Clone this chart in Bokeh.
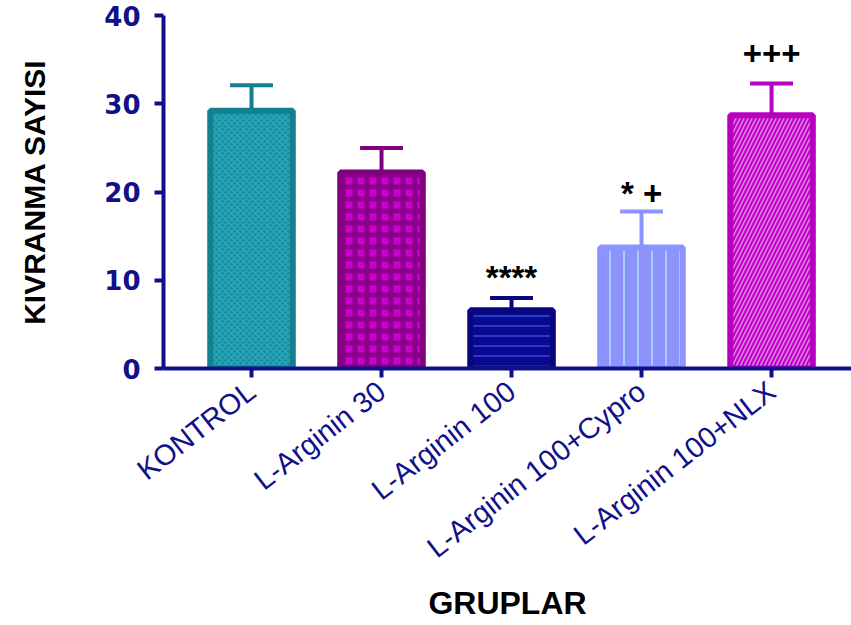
from bokeh.plotting import figure
from bokeh.models import ColumnDataSource, FixedTicker
from bokeh.core.properties import value
from bokeh.embed import file_html
from bokeh.resources import INLINE

# ---- data ----
groups = ["KONTROL", "L-Arginin 30", "L-Arginin 100", "L-Arginin 100+Cypro", "L-Arginin 100+NLX"]
means = [29.2, 22.2, 6.6, 13.7, 28.7]
sems = [2.9, 2.8, 1.4, 4.1, 3.6]
marks = ["", "", "****", "* +", "+++"]
y_ticks = [0, 10, 20, 30, 40]

# ---- styles ----
edge_colors = ["#137f8f", "#800080", "#06067e", "#8c94ff", "#b800c0"]
fill_colors = ["#1a8ea0", "#cc00cc", "#0a0a90", "#8c94fc", "#c000c8"]
hatch_colors = ["#28a8b8", "#8a008a", "#2a3ac8", "#a8ccff", "#e088e4"]
hatch_patterns = ["diagonal_cross", "cross", "horizontal_line", "vertical_line", "right_diagonal_line"]
hatch_scales = [6, 12, 10, 14, 8]
hatch_weights = [1.5, 5, 2, 2, 1.5]
mark_offsets = [0, 0, 20, 18, 30]

xs = list(range(1, len(groups) + 1))
tops = [m + s for m, s in zip(means, sems)]
cap_half = 0.165

src = ColumnDataSource(dict(
    x=xs, top=means, err_top=tops,
    cap_l=[x - cap_half for x in xs], cap_r=[x + cap_half for x in xs],
    edge=edge_colors, fill=fill_colors, hcol=hatch_colors,
    hpat=hatch_patterns, hscale=hatch_scales, hweight=hatch_weights,
))

AXIS_COLOR = "#10108a"

p = figure(width=851, height=625, output_backend="svg", toolbar_location=None,
           x_range=(0.323, 5.615), y_range=(0, 40),
           min_border_left=163, min_border_right=0, min_border_top=15, min_border_bottom=257)
p.outline_line_color = None
p.grid.visible = False
p.background_fill_color = "white"

# error stems and caps (upper only)
p.segment(x0="x", y0="top", x1="x", y1="err_top", source=src, line_color="edge", line_width=4)
p.segment(x0="cap_l", y0="err_top", x1="cap_r", y1="err_top", source=src, line_color="edge", line_width=4)

# bars
p.vbar(x="x", top="top", bottom=0, width=0.635, source=src,
       fill_color="fill", line_color="edge", line_width=6,
       hatch_pattern="hpat", hatch_color="hcol", hatch_scale="hscale", hatch_weight="hweight")

# significance marks
for i, mk in enumerate(marks):
    if mk:
        p.text(x=[xs[i]], y=[tops[i]], text=[mk], text_align="center", text_baseline="middle",
               y_offset=-mark_offsets[i], text_font=value("Liberation Sans"), text_font_style="bold",
               text_font_size="33px", text_color="black")

# axes
for ax in (p.xaxis[0], p.yaxis[0]):
    ax.axis_line_color = AXIS_COLOR
    ax.axis_line_width = 4
    ax.major_tick_line_color = AXIS_COLOR
    ax.major_tick_line_width = 4
    ax.major_tick_out = 9
    ax.major_tick_in = 0
    ax.minor_tick_line_color = None
    ax.major_label_text_color = AXIS_COLOR
    ax.axis_label_text_color = "black"
    ax.axis_label_text_font = "Liberation Sans"
    ax.axis_label_text_font_style = "bold"

p.yaxis.ticker = FixedTicker(ticks=y_ticks)
p.yaxis.major_label_text_font = "DejaVu Sans"
p.yaxis.major_label_text_font_style = "bold"
p.yaxis.major_label_text_font_size = "26px"
p.yaxis.major_label_standoff = 14
p.yaxis.axis_label = "KIVRANMA SAYISI"
p.yaxis.axis_label_text_font_size = "30px"
p.yaxis.axis_label_standoff = 50

p.xaxis.ticker = FixedTicker(ticks=xs)
p.xaxis.major_label_overrides = {x: g for x, g in zip(xs, groups)}
p.xaxis.major_label_orientation = 0.66
p.xaxis.major_label_text_font = "Liberation Sans"
p.xaxis.major_label_text_font_size = "29px"
p.xaxis.major_label_standoff = 10
p.xaxis.axis_label = "GRUPLAR"
p.xaxis.axis_label_text_font_size = "32px"
p.xaxis.axis_label_standoff = 6

open("out.html", "w").write(file_html(p, INLINE))
